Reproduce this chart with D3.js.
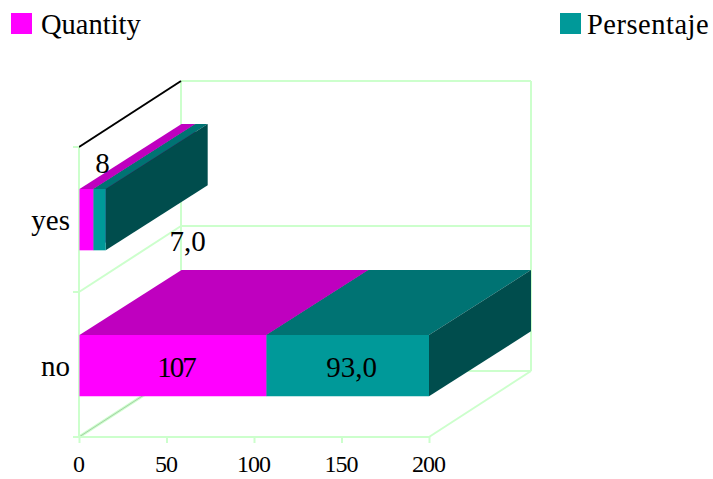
<!DOCTYPE html>
<html><head><meta charset="utf-8">
<script src="https://cdn.jsdelivr.net/npm/d3@7/dist/d3.min.js"></script>
<style>html,body{margin:0;padding:0;background:#fff}svg{display:block}text{font-family:"Liberation Serif",serif;fill:#000}</style>
</head><body><div id="c"></div>
<script>
const categories = ["yes", "no"];
const seriesNames = ["Quantity", "Persentaje"];
const quantity = [8, 107];
const persentaje = [7.0, 93.0];
const quantityLabels = ["8", "107"];
const persentajeLabels = ["7,0", "93,0"];
const xTicks = [0, 50, 100, 150, 200];
const colors = {front:["#ff00ff","#009999"], top:["#bf00bf","#007373"], side:["#7f007f","#004d4d"]};
const grid = "#ccffcc";

const W = 713, H = 479;
const svg = d3.select("#c").append("svg").attr("width", W).attr("height", H);
const x = d3.scaleLinear().domain([0, 200]).range([79, 429]);
const xBar = d3.scaleLinear().domain([0, 200]).range([79.5, 429]);
const y = d3.scaleBand().domain(categories).range([146.66, 438.66]).paddingInner(0.58).paddingOuter(0.29);
const band = d3.scaleBand().domain(categories).range([147, 437]);
const dx = 102, dy = -66, barDy = -65;
const x0 = x(0), x1 = x(200), yT = 147, yB = 437;

function ln(g, a, b, c, d, col, w) {
  return g.append("line").attr("x1", a).attr("y1", b).attr("x2", c).attr("y2", d)
    .attr("stroke", col || grid).attr("stroke-width", w || 2);
}
const g = svg.append("g");
// back wall
ln(g, x0 + dx, yT + dy, x1 + dx, yT + dy);
ln(g, x0 + dx, yT + dy, x0 + dx, yB + dy);
ln(g, x1 + dx, yT + dy, x1 + dx, yB + dy);
categories.forEach(c => ln(g, x0 + dx, band(c) + band.bandwidth() + dy, x1 + dx, band(c) + band.bandwidth() + dy));
// left wall
ln(g, x0, yT, x0, yB);
ln(g, x0, band("no"), x0 + dx, band("no") + dy);
// floor
ln(g, x0, yB, x0 + dx, yB + dy, grid, 3);
ln(g, x0, yB, x0 + dx, yB + dy, "#a6cfa6", 1);
ln(g, x1, yB, x1 + dx, yB + dy);
// top edge of the left wall
ln(g, x0, yT, x0 + dx, yT + dy, "#000", 2);
// left ticks
[yT, band("no")].forEach(v => ln(g, x0 - 6, v, x0, v));

// bars
const rows = categories.map((c, i) => ({c, vals:[quantity[i], persentaje[i]]}));
const poly = (pts, fill) => g.append("polygon").attr("points", pts.map(p => p.join(",")).join(" ")).attr("fill", fill);
rows.forEach(r => {
  const yy = y(r.c), h = y.bandwidth();
  let cum = 0;
  r.vals.forEach((v, s) => {
    const a = xBar(cum), b = xBar(cum + v);
    cum += v;
    poly([[a, yy], [b, yy], [b + dx, yy + barDy], [a + dx, yy + barDy]], colors.top[s]);
    poly([[b, yy], [b + dx, yy + barDy], [b + dx, yy + barDy + h], [b, yy + h]], colors.side[s]);
    poly([[a, yy], [b, yy], [b, yy + h], [a, yy + h]], colors.front[s]);
  });
});

// axis
const axis = d3.axisBottom(x).tickValues(xTicks).tickSize(6).tickPadding(12).tickFormat(d3.format("d"));
const ag = svg.append("g").attr("transform", `translate(0,${yB})`).call(axis);
ag.select(".domain").attr("stroke", grid).attr("stroke-width", 2).attr("d", `M${x0 - 6},0H${x1}`);
ag.selectAll(".tick line").attr("stroke", grid).attr("stroke-width", 2);
ag.selectAll("text").attr("font-size", 24).attr("letter-spacing", -1).attr("dx", -1)
  .attr("style", 'font-family:"Liberation Serif",serif');

// category labels
svg.selectAll(".cat").data(categories).join("text").attr("class", "cat")
  .attr("x", 70).attr("y", c => y(c) + y.bandwidth() / 2 + 10)
  .attr("text-anchor", "end").attr("font-size", 29).text(d => d);

// data labels
const lab = (t, px, py, sp) => svg.append("text").attr("x", px).attr("y", py).attr("text-anchor", "middle")
  .attr("font-size", 29).attr("letter-spacing", sp || 0).text(t);
lab(quantityLabels[0], xBar(quantity[0] / 2) + 16, y("yes") - 16);
lab(persentajeLabels[0], xBar(quantity[0] + persentaje[0] / 2) + 88, y("yes") + 62);
lab(quantityLabels[1], xBar(quantity[1] / 2) + 3, y("no") + 42, -2);
lab(persentajeLabels[1], xBar(quantity[1] + persentaje[1] / 2) + 4, y("no") + 42);

// legend
[[11, 41, 0], [560, 587, 0.5]].forEach(([bx, tx, sp], i) => {
  svg.append("rect").attr("x", bx).attr("y", 13).attr("width", 21).attr("height", 21).attr("fill", colors.front[i]);
  svg.append("text").attr("x", tx).attr("y", 34).attr("font-size", 28.5).attr("letter-spacing", sp).text(seriesNames[i]);
});
</script></body></html>
